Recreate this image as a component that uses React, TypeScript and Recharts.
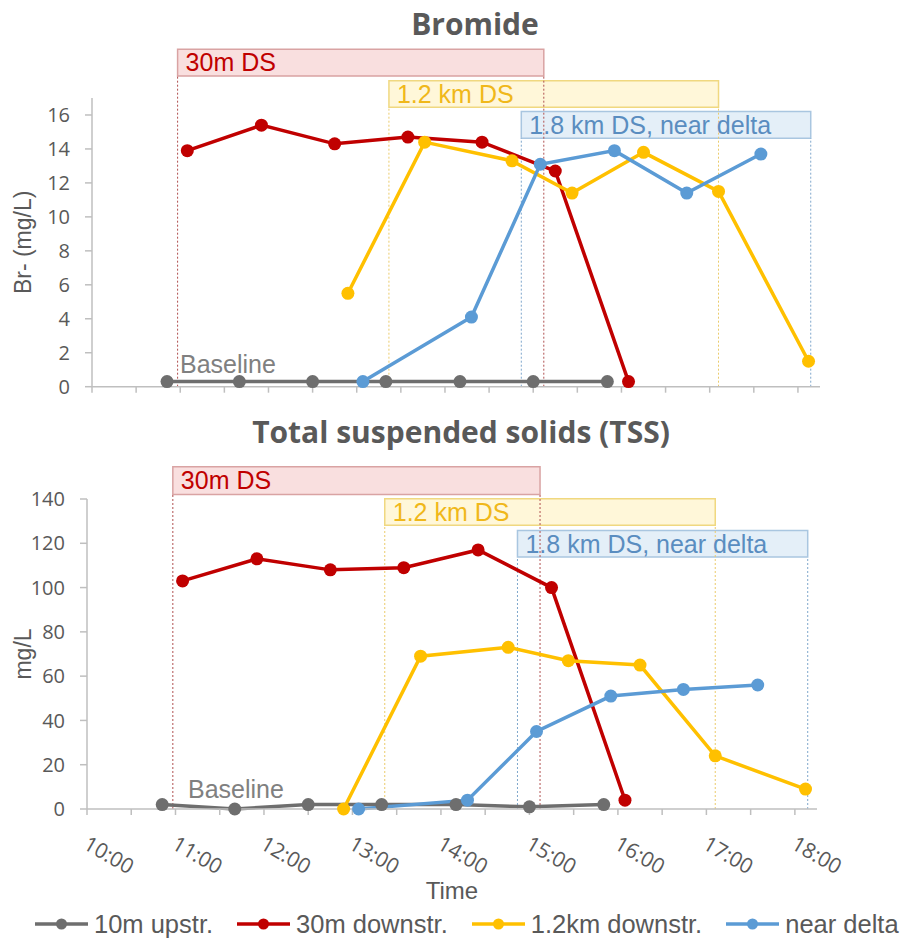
import React from 'react';
import { LineChart, Line, XAxis, YAxis, ReferenceArea, ReferenceLine } from 'recharts';

// sampling times (decimal hours) per station
const upstrTimes = [10.85, 11.67, 12.5, 13.33, 14.17, 15.0, 15.84];
const downstrTimes = [11.08, 11.92, 12.75, 13.58, 14.42, 15.25, 16.08];
const km12Times = [12.9, 13.77, 14.76, 15.44, 16.25, 17.1, 18.12];
const deltaTimes = [13.07, 14.3, 15.08, 15.92, 16.74, 17.58];

// bromide, mg/L
const upstrBr = [0.3, 0.3, 0.3, 0.3, 0.3, 0.3, 0.3];
const downstrBr = [13.9, 15.4, 14.3, 14.7, 14.4, 12.7, 0.3];
const km12Br = [5.5, 14.4, 13.3, 11.4, 13.8, 11.5, 1.5];
const deltaBr = [0.3, 4.1, 13.1, 13.9, 11.4, 13.7];

// total suspended solids, mg/L
const upstrTss = [2, 0, 2, 2, 2, 1, 2];
const downstrTss = [103, 113, 108, 109, 117, 100, 4];
const km12Tss = [0, 69, 73, 67, 65, 24, 9];
const deltaTss = [0, 4, 35, 51, 54, 56];

const seriesNames = ['10m upstr.', '30m downstr.', '1.2km downstr.', 'near delta'];
const seriesColors = ['#6E6E6E', '#C00000', '#FFC000', '#5B9BD5'];

// tracer passage windows at each site
const zoneNames = ['30m DS', '1.2 km DS', '1.8 km DS, near delta'];
const zoneStart = [10.97, 13.365, 14.865];
const zoneEnd = [15.12, 17.1, 18.145];

const timeTicks = [10, 10.5, 11, 11.5, 12, 12.5, 13, 13.5, 14, 14.5, 15, 15.5, 16, 16.5, 17, 17.5, 18];
const brTicks = [0, 2, 4, 6, 8, 10, 12, 14, 16];
const tssTicks = [0, 20, 40, 60, 80, 100, 120, 140];

const zoneStyle = [
  { fill: '#F9DFDF', stroke: '#D9A3A3', text: '#C00000', line: '#B05050' },
  { fill: '#FFF7D9', stroke: '#F0D880', text: '#F0B81A', line: '#EBCB6B' },
  { fill: '#E4EFF8', stroke: '#A9C6E0', text: '#5A8DC0', line: '#7FA7CC' },
];

const zip = (t: number[], v: number[]) => t.map((x, i) => ({ t: x, v: v[i] }));

const axisColor = '#BFBFBF';
const textColor = '#595959';
const calibri = "'Open Sans', sans-serif";
const arial = "'Liberation Sans', Arial, sans-serif";

const NoTick = () => <g />;

// only whole hours get a label, half hours keep just the tick mark
const TimeTick = (props: any) => {
  const { x, y, payload } = props;
  if (!Number.isInteger(payload.value)) return <g />;
  const ax = x - 5;
  const ay = y + 31;
  return (
    <text x={ax} y={ay} transform={`rotate(30 ${ax} ${ay})`} fill={textColor} fontSize={21} fontFamily={calibri}>
      {`${payload.value}:00`}
    </text>
  );
};

interface PanelProps {
  top: number;
  height: number;
  axisX: number;
  plotTop: number;
  plotBottom: number;
  plotRight: number;
  yDomain: [number, number];
  yTicks: number[];
  yLabel: string;
  series: number[][];
  zoneY: [number, number][];
  timeLabels: boolean;
}

const Panel: React.FC<PanelProps> = ({
  top, height, axisX, plotTop, plotBottom, plotRight, yDomain, yTicks, yLabel, series, zoneY, timeLabels,
}) => {
  const xAxisH = 30;
  const margin = { top: plotTop, left: 0, right: 900 - plotRight, bottom: height - plotBottom - xAxisH };
  const times = [upstrTimes, downstrTimes, km12Times, deltaTimes];

  return (
    <div style={{ position: 'absolute', left: 0, top }}>
      <LineChart width={900} height={height} margin={margin}>
        <XAxis
          type="number"
          dataKey="t"
          domain={[10, 18.25]}
          ticks={timeTicks}
          interval={0}
          height={xAxisH}
          tickSize={6}
          tickMargin={2}
          axisLine={{ stroke: axisColor, strokeWidth: 1.5 }}
          tickLine={{ stroke: axisColor, strokeWidth: 1.5 }}
          tick={timeLabels ? TimeTick : NoTick}
          label={timeLabels ? {
            value: 'Time', position: 'bottom', offset: 43,
            style: { fill: textColor, fontSize: 24, fontFamily: arial },
          } : undefined}
        />
        <YAxis
          type="number"
          domain={yDomain}
          ticks={yTicks}
          width={axisX}
          tickSize={7}
          tickMargin={15}
          axisLine={{ stroke: axisColor, strokeWidth: 1.5 }}
          tickLine={{ stroke: axisColor, strokeWidth: 1.5 }}
          tick={{ fill: textColor, fontSize: 20, fontFamily: calibri }}
          label={{
            value: yLabel, angle: -90, position: 'insideLeft', offset: 23,
            style: { textAnchor: 'middle', fill: textColor, fontSize: 23, fontFamily: arial },
          }}
        />

        {zoneNames.map((name, i) => (
          <ReferenceArea
            key={`zone-${i}`}
            x1={zoneStart[i]}
            x2={zoneEnd[i]}
            y1={zoneY[i][0]}
            y2={zoneY[i][1]}
            ifOverflow="visible"
            fill={zoneStyle[i].fill}
            fillOpacity={1}
            stroke={zoneStyle[i].stroke}
            strokeWidth={1.5}
            label={{
              value: name, position: 'insideLeft', offset: 8,
              fill: zoneStyle[i].text, fontSize: 25, fontFamily: arial,
            }}
          />
        ))}
        {zoneNames.map((_, i) =>
          [zoneStart[i], zoneEnd[i]].map((x, j) => (
            <ReferenceLine
              key={`edge-${i}-${j}`}
              segment={[{ x, y: 0 }, { x, y: zoneY[i][0] }]}
              ifOverflow="visible"
              stroke={zoneStyle[i].line}
              strokeWidth={1}
              strokeDasharray="2 2"
            />
          ))
        )}

        {series.map((vals, i) => (
          <Line
            key={seriesNames[i]}
            data={zip(times[i], vals)}
            dataKey="v"
            name={seriesNames[i]}
            stroke={seriesColors[i]}
            strokeWidth={3.5}
            dot={{ r: 6.5, fill: seriesColors[i], stroke: seriesColors[i], strokeWidth: 0 }}
            isAnimationActive={false}
          />
        ))}
      </LineChart>
    </div>
  );
};

export default function App() {
  return (
    <div style={{ position: 'absolute', left: 0, top: 0, width: 900, height: 942, background: '#fff' }}>
      <Panel
        top={0}
        height={400}
        axisX={92}
        plotTop={98}
        plotBottom={386.7}
        plotRight={820}
        yDomain={[0, 17]}
        yTicks={brTicks}
        yLabel="Br- (mg/L)"
        series={[upstrBr, downstrBr, km12Br, deltaBr]}
        zoneY={[[18.3, 19.87], [16.45, 18.02], [14.63, 16.2]]}
        timeLabels={false}
      />
      <Panel
        top={440}
        height={502}
        axisX={87}
        plotTop={59}
        plotBottom={369}
        plotRight={817}
        yDomain={[0, 140]}
        yTicks={tssTicks}
        yLabel="mg/L"
        series={[upstrTss, downstrTss, km12Tss, deltaTss]}
        zoneY={[[142, 154.6], [128.1, 140.1], [113.8, 125.8]]}
        timeLabels={true}
      />

      <svg width={900} height={942} style={{ position: 'absolute', left: 0, top: 0, pointerEvents: 'none' }}>
        <text x={475} y={35} textAnchor="middle" fill={textColor} fontSize={30} fontWeight="bold" fontFamily={calibri}>
          Bromide
        </text>
        <text x={461} y={443} textAnchor="middle" fill={textColor} fontSize={30} fontWeight="bold" fontFamily={calibri}>
          Total suspended solids (TSS)
        </text>
        <text x={180} y={373} fill="#808080" fontSize={25} fontFamily={arial}>Baseline</text>
        <text x={188} y={798} fill="#808080" fontSize={25} fontFamily={arial}>Baseline</text>
      </svg>

      <div style={{ position: 'absolute', left: 35, top: 910, display: 'flex', alignItems: 'center', gap: 24 }}>
        {seriesNames.map((name, i) => (
          <div key={name} style={{ display: 'flex', alignItems: 'center', gap: 6 }}>
            <svg width={53} height={14}>
              <line x1={0} y1={7} x2={53} y2={7} stroke={seriesColors[i]} strokeWidth={3.5} />
              <circle cx={26.5} cy={7} r={5.5} fill={seriesColors[i]} />
            </svg>
            <span style={{ fontFamily: arial, fontSize: 25.5, lineHeight: '28px', color: textColor }}>{name}</span>
          </div>
        ))}
      </div>
    </div>
  );
}
